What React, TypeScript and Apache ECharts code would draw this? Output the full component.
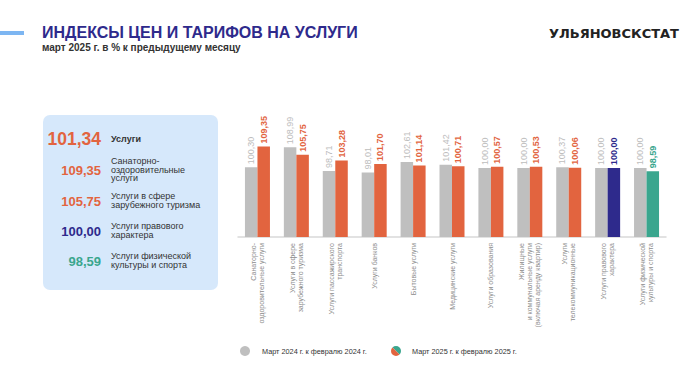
import React, { useEffect, useRef } from "react";
import * as echarts from "echarts";

const categories = [
  "Санаторно-\nоздоровительные услуги",
  "Услуги в сфере\nзарубежного туризма",
  "Услуги пассажирского\nтранспорта",
  "Услуги банков",
  "Бытовые услуги",
  "Медицинские услуги",
  "Услуги образования",
  "Жилищные\nи коммунальные услуги\n(включая аренду квартир)",
  "Услуги\nтелекоммуникационные",
  "Услуги правового\nхарактера",
  "Услуги физической\nкультуры и спорта",
];
const values2024 = [100.3, 108.99, 98.71, 98.01, 102.61, 101.42, 100.0, 100.0, 100.37, 100.0, 100.0];
const values2025 = [109.35, 105.75, 103.28, 101.7, 101.14, 100.71, 100.57, 100.53, 100.06, 100.0, 98.59];
const colors2025 = ["#E2643F", "#E2643F", "#E2643F", "#E2643F", "#E2643F", "#E2643F", "#E2643F", "#E2643F", "#E2643F", "#2E2A8C", "#3AA68E"];

const panelValues = ["101,34", "109,35", "105,75", "100,00", "98,59"];
const panelLabels = ["Услуги", "Санаторно-\nоздоровительные\nуслуги", "Услуги в сфере\nзарубежного туризма", "Услуги правового\nхарактера", "Услуги физической\nкультуры и спорта"];
const panelColors = ["#E2643F", "#E2643F", "#E2643F", "#2E2A8C", "#3AA68E"];

const legendNames = ["Март 2024 г. к февралю 2024 г.", "Март 2025 г. к февралю 2025 г."];

const fmt = (v: number) => v.toFixed(2).replace(".", ",");
const FONT = "'Liberation Sans', Arial, sans-serif";

export default function App() {
  const ref = useRef<HTMLDivElement>(null);
  useEffect(() => {
    const chart = echarts.init(ref.current!, null, { renderer: "svg" });
    const panelY = [139, 170, 201, 231, 261];
    const graphics: any[] = [
      { type: "rect", shape: { x: 0, y: 31, width: 24, height: 4 }, style: { fill: "#7DB6F2" } },
      { type: "text", x: 42, y: 32, style: { text: "ИНДЕКСЫ ЦЕН И ТАРИФОВ НА УСЛУГИ", font: `bold 16px ${FONT}`, fill: "#2E2A8C", verticalAlign: "middle" } },
      { type: "text", x: 42, y: 47, style: { text: "март 2025 г. в % к предыдущему месяцу", font: `bold 10px ${FONT}`, fill: "#333", verticalAlign: "middle" } },
      { type: "text", x: 679, y: 33, style: { text: "УЛЬЯНОВСКСТАТ", font: `bold 13px 'DejaVu Sans', sans-serif`, fill: "#222", align: "right", verticalAlign: "middle" } },
      { type: "rect", shape: { x: 43, y: 115, width: 175, height: 175, r: 7 }, style: { fill: "#D6E8FB" } },
      { type: "circle", shape: { cx: 245, cy: 351, r: 5 }, style: { fill: "#BFBFBF" } },
      { type: "text", x: 262, y: 351, style: { text: legendNames[0], font: `7.3px ${FONT}`, fill: "#333", verticalAlign: "middle" } },
      { type: "sector", shape: { cx: 396, cy: 351, r: 5, r0: 0, startAngle: -Math.PI * 0.75, endAngle: Math.PI * 0.25 }, style: { fill: "#3AA68E" } },
      { type: "sector", shape: { cx: 396, cy: 351, r: 5, r0: 0, startAngle: Math.PI * 0.25, endAngle: Math.PI * 1.25 }, style: { fill: "#E2643F" } },
      { type: "text", x: 412, y: 351, style: { text: legendNames[1], font: `7.3px ${FONT}`, fill: "#333", verticalAlign: "middle" } },
    ];
    panelValues.forEach((v, i) => {
      graphics.push({ type: "text", x: 101, y: panelY[i], style: { text: v, font: `bold ${i === 0 ? 17.5 : 13}px ${FONT}`, fill: panelColors[i], align: "right", verticalAlign: "middle" } });
      graphics.push({ type: "text", x: 111, y: panelY[i] - 0.5, style: { text: panelLabels[i], font: `${i === 0 ? "bold " : ""}9px ${FONT}`, fill: "#333", align: "left", verticalAlign: "middle", lineHeight: 8.8 } });
    });

    chart.setOption({
      animation: false,
      textStyle: { fontFamily: FONT },
      grid: { left: 238, right: 34, top: 122, bottom: 132 },
      xAxis: {
        type: "category",
        data: categories,
        axisTick: { show: false },
        axisLine: { lineStyle: { color: "#D9D9D9", width: 1.5 } },
        axisLabel: { rotate: 90, interval: 0, fontSize: 7, color: "#8C8C8C", lineHeight: 8, margin: 6 },
      },
      yAxis: { type: "value", min: 70, max: 120, show: false, splitLine: { show: false } },
      series: [
        {
          type: "bar",
          data: values2024,
          barWidth: 12.5,
          barGap: "0%",
          itemStyle: { color: "#BFBFBF" },
          label: { show: true, position: "top", rotate: 90, align: "left", verticalAlign: "middle", distance: 3, fontSize: 9, color: "#BDBDBD", formatter: (p: any) => fmt(p.value) },
        },
        {
          type: "bar",
          data: values2025.map((v, i) => ({ value: v, itemStyle: { color: colors2025[i] }, label: { color: colors2025[i] } })),
          barWidth: 12.5,
          barGap: "0%",
          label: { show: true, position: "top", rotate: 90, align: "left", verticalAlign: "middle", distance: 3, fontSize: 9, fontWeight: "bold", formatter: (p: any) => fmt(p.value) },
        },
      ],
      graphic: graphics,
    });
    return () => chart.dispose();
  }, []);
  return <div ref={ref} style={{ position: "fixed", left: 0, top: 0, width: 700, height: 369, background: "#fff" }} />;
}
